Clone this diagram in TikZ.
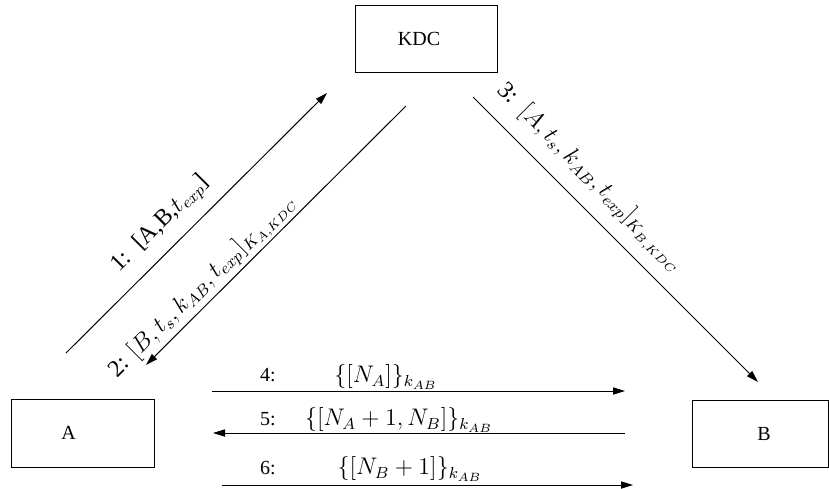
\documentclass[tikz,border=0pt]{standalone}
\usepackage[no-math]{fontspec}
\setmainfont{Liberation Serif}
\usetikzlibrary{arrows.meta}
\begin{document}
\begin{tikzpicture}[x=0.5pt,y=-0.5pt,
  boxnode/.style={draw,line width=0.5pt,inner sep=0pt,rectangle},
  boxtext/.style={font=\fontsize{10}{12}\selectfont,inner sep=0pt},
  msg/.style={line width=0.5pt,-{Triangle[length=6pt,width=3.6pt]}},
  lbl/.style={inner sep=0pt,font=\fontsize{12}{14}\selectfont},
  num/.style={inner sep=0pt,font=\fontsize{10}{12}\selectfont}]
\useasboundingbox (0,0) rectangle (829,488);
% boxes
\node[boxnode,minimum width=71pt,minimum height=33.5pt,
  label={[boxtext,xshift=-3.5pt]center:KDC}] (KDC) at (426,38.5) {};
\node[boxnode,minimum width=71.5pt,minimum height=34pt,
  label={[boxtext,xshift=-7pt]center:A}] (A) at (82.5,433) {};
\node[boxnode,minimum width=68pt,minimum height=33.5pt,
  label={[boxtext,xshift=2pt]center:B}] (B) at (760,433.5) {};
% connector end points
\coordinate (m1s) at (66,353);  \coordinate (m1e) at (327,93);
\coordinate (m2s) at (406,106); \coordinate (m2e) at (146,365);
\coordinate (m3s) at (473,97);  \coordinate (m3e) at (758,382);
\coordinate (m4s) at (212,391); \coordinate (m4e) at (625,391);
\coordinate (m5s) at (625,433); \coordinate (m5e) at (213,433);
\coordinate (m6s) at (222,485); \coordinate (m6e) at (633,485);
\draw[msg] (m1s) -- (m1e);
\draw[msg] (m2s) -- (m2e);
\draw[msg] (m3s) -- (m3e);
\draw[msg] (m4s) -- (m4e);
\draw[msg] (m5s) -- (m5e);
\draw[msg] (m6s) -- (m6e);
% diagonal labels
\node[lbl,rotate=45] (l1) at (161,224) {1:\ \ [A,B,$t_{exp}$]};
\node[lbl,rotate=45] (l2) at (203,286) {2: $[B,t_s,k_{AB},t_{exp}]_{K_{A,KDC}}$};
\node[lbl,rotate=-45] (l3) at (590,178) {3:\ \ $[A,t_s,k_{AB},t_{exp}]_{K_{B,KDC}}$};
% horizontal labels
\node[num] (n4) at (268,375) {4:};
\node[lbl] (f4) at (386,377) {$\{[N_A]\}_{k_{AB}}$};
\node[num] (n5) at (268,419) {5:};
\node[lbl] (f5) at (399,420) {$\{[N_A+1,N_B]\}_{k_{AB}}$};
\node[num] (n6) at (268,468) {6:};
\node[lbl] (f6) at (410,469) {$\{[N_B+1]\}_{k_{AB}}$};
\end{tikzpicture}
\end{document}
